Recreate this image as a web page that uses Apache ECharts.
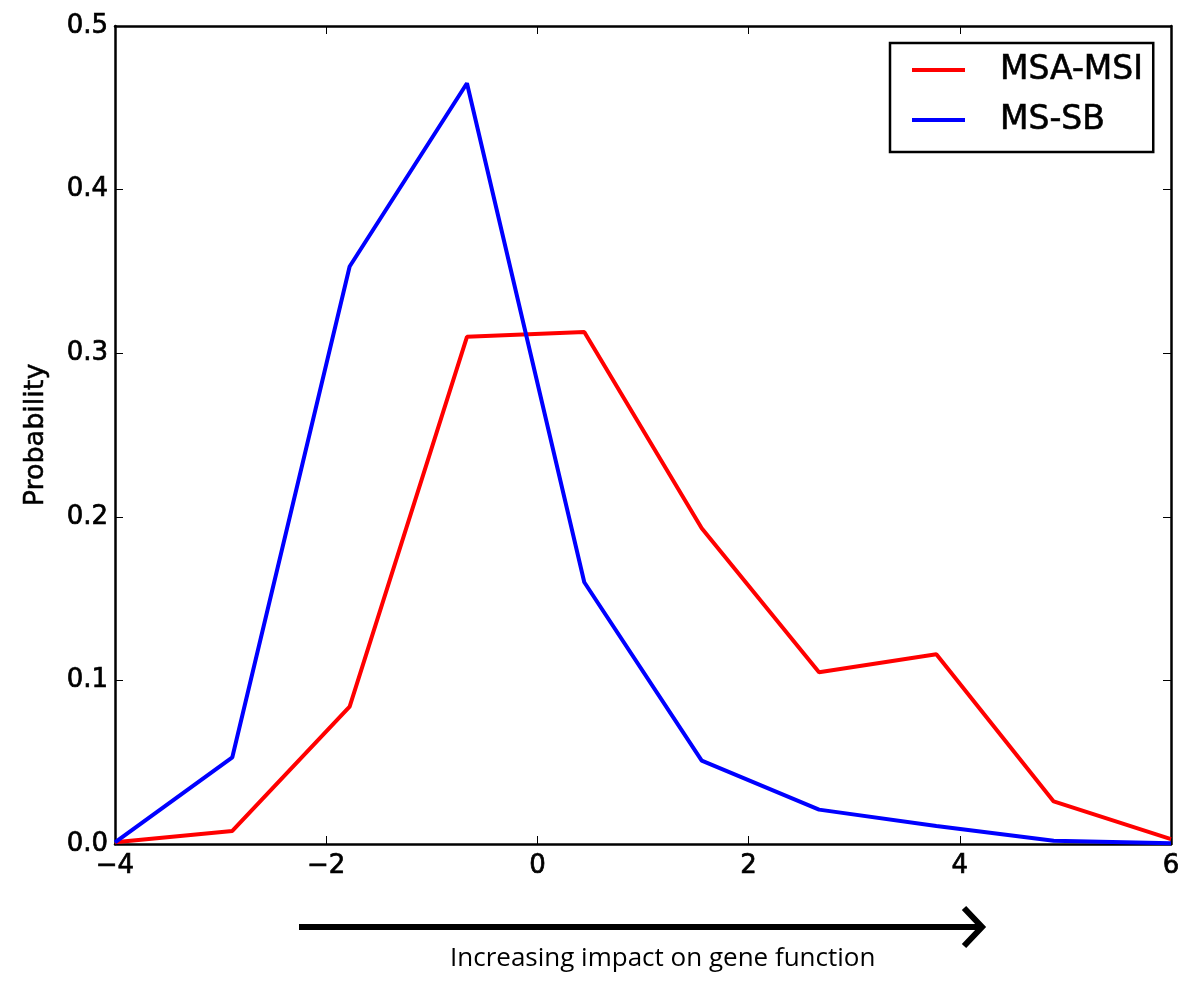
<!DOCTYPE html>
<html>
<head>
<meta charset="utf-8">
<script src="https://cdn.jsdelivr.net/npm/echarts@6/dist/echarts.min.js"></script>
<style>html,body{margin:0;padding:0;background:#fff;}#main{width:1200px;height:992px;}</style>
</head>
<body>
<div id="main"></div>
<script>
// Data
const xValues = [-4, -2.889, -1.778, -0.667, 0.444, 1.556, 2.667, 3.778, 4.889, 6];
const msaMsi = [0.001, 0.008, 0.084, 0.310, 0.313, 0.193, 0.105, 0.116, 0.026, 0.003];
const msSb   = [0.001, 0.053, 0.353, 0.465, 0.160, 0.051, 0.021, 0.011, 0.002, 0.0005];
const seriesNames = ['MSA-MSI', 'MS-SB'];
const xLabel = 'Increasing impact on gene function';
const yLabel = 'Probability';

const chart = echarts.init(document.getElementById('main'), null, {renderer: 'canvas'});
const tickFont = {fontFamily: 'DejaVu Sans', fontSize: 26, color: '#000', textBorderColor: '#000', textBorderWidth: 0.7};
const fmtX = v => v < 0 ? '\u2212' + Math.abs(v) : String(v);

const axisLine = {show: true, onZero: false, lineStyle: {color: '#000', width: 2.5}};
const axisTick = {show: true, inside: true, length: 8, lineStyle: {color: '#000', width: 1}};

chart.setOption({
  animation: false,
  backgroundColor: '#fff',
  grid: {left: 115, right: 29, top: 26, bottom: 148, containLabel: false},
  xAxis: [
    {type: 'value', min: -4, max: 6, interval: 2, position: 'bottom',
     axisLine, axisTick, splitLine: {show: false},
     axisLabel: Object.assign({margin: 9, formatter: fmtX}, tickFont)},
    {type: 'value', min: -4, max: 6, interval: 2, position: 'top',
     axisLine, axisTick, splitLine: {show: false}, axisLabel: {show: false}}
  ],
  yAxis: [
    {type: 'value', min: 0, max: 0.5, interval: 0.1, position: 'left',
     axisLine, axisTick, splitLine: {show: false},
     axisLabel: Object.assign({margin: 7, formatter: v => v.toFixed(1)}, tickFont),
     name: yLabel, nameLocation: 'middle', nameRotate: 90, nameGap: 66,
     nameTextStyle: {fontFamily: 'DejaVu Sans', fontSize: 27, color: '#000', textBorderColor: '#000', textBorderWidth: 0.5}},
    {type: 'value', min: 0, max: 0.5, interval: 0.1, position: 'right',
     axisLine, axisTick, splitLine: {show: false}, axisLabel: {show: false}}
  ],
  legend: {
    orient: 'vertical', left: 890, top: 43,
    data: seriesNames,
    icon: 'rect', itemWidth: 53, itemHeight: 4, itemGap: 10,
    padding: [7, 10, 12, 22],
    borderColor: '#000', borderWidth: 2.5, backgroundColor: '#fff',
    textStyle: {fontFamily: 'DejaVu Sans', fontSize: 33, color: '#000', lineHeight: 40, padding: [0, 0, 0, 30], textBorderColor: '#000', textBorderWidth: 0.6}
  },
  series: [
    {name: seriesNames[0], type: 'line', data: xValues.map((x, i) => [x, msaMsi[i]]),
     showSymbol: false, symbol: 'none', lineStyle: {color: '#ff0000', width: 4}, itemStyle: {color: '#ff0000'}, z: 3},
    {name: seriesNames[1], type: 'line', data: xValues.map((x, i) => [x, msSb[i]]),
     showSymbol: false, symbol: 'none', lineStyle: {color: '#0000ff', width: 4}, itemStyle: {color: '#0000ff'}, z: 4}
  ],
  graphic: [
    {type: 'line', shape: {x1: 299, y1: 927, x2: 980, y2: 927}, style: {stroke: '#000', lineWidth: 6}},
    {type: 'polyline', shape: {points: [[964, 908], [982, 927], [964, 946]]}, style: {stroke: '#000', lineWidth: 6, fill: null}},
    {type: 'text', left: 450, top: 946, style: {text: xLabel, font: '26px "Open Sans"', fill: '#000'}}
  ]
});
</script>
</body>
</html>
